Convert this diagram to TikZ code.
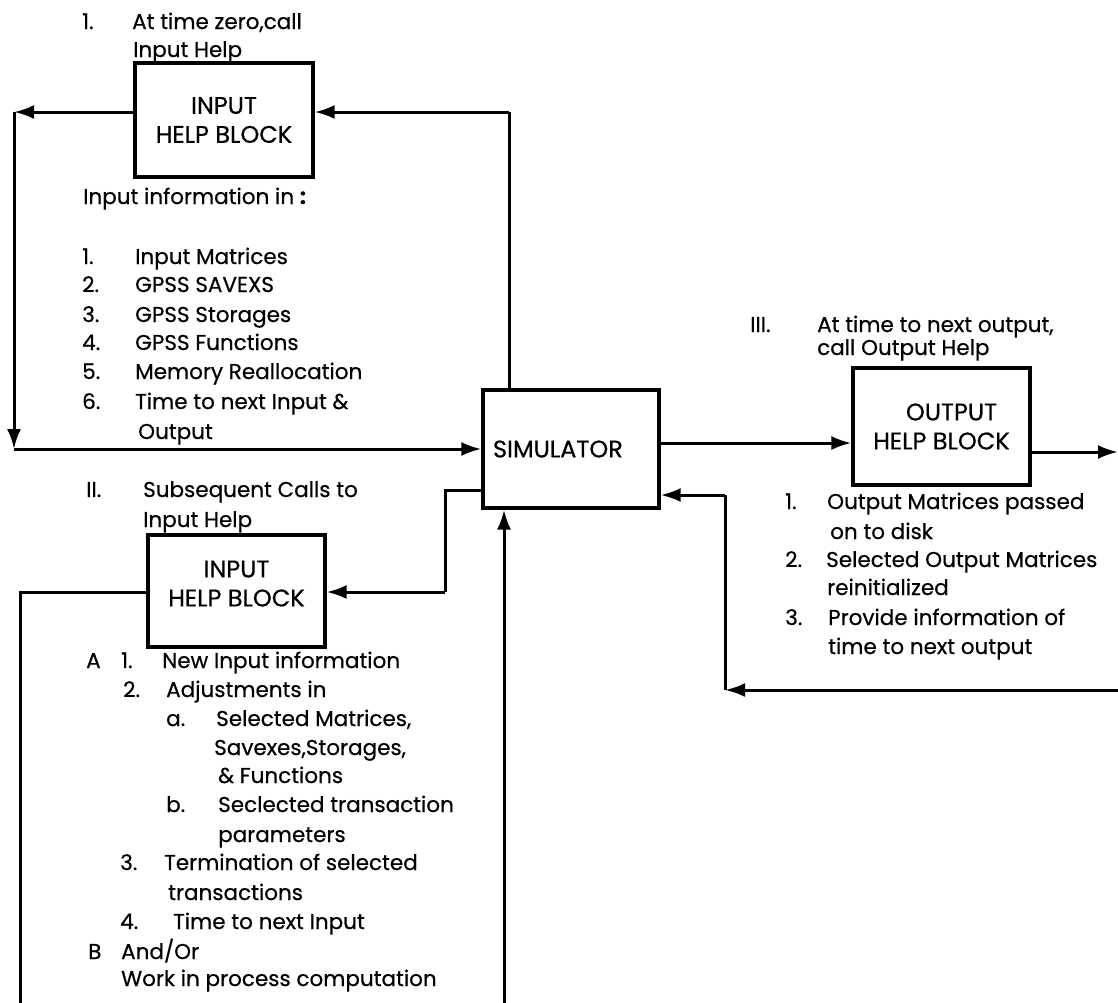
\documentclass[tikz,border=0pt]{standalone}
\usepackage{fontspec}
\setmainfont{Poppins}[FakeBold=0.5]
\usetikzlibrary{arrows.meta}
\newcommand\itemlab[2]{\makebox[#1][l]{#2}}
\begin{document}
\begin{tikzpicture}[x=1pt,y=-1pt,
  font=\fontsize{21.5}{29}\selectfont,
  block/.style={draw, line width=3.2pt, minimum width=#1, align=center, inner sep=0pt,
    font=\fontsize{24}{29}\selectfont},
  wire/.style={line width=3pt},
  tip/.style={line width=3pt, -{Latex[length=20pt,width=14pt]}},
  lbl/.style={anchor=base west, inner sep=0pt}]
\useasboundingbox (0,0) rectangle (1118,1002);
\clip (0,0) rectangle (1118,1002);

% blocks
\node[block=178pt, minimum height=114pt] (inA) at (224,120) {INPUT\\HELP BLOCK};
\node[block=176pt, minimum height=118pt, text width=156pt, align=left] (sim) at (571,449) {SIMULATOR};
\node[block=177pt, minimum height=112pt] (inB) at (236.5,591) {INPUT\\HELP BLOCK\\[-14pt]\mbox{}};
\node[block=177pt, minimum height=117pt] (outB) at (941.5,426.5) {\hspace*{20pt}OUTPUT\\HELP BLOCK};

% turning points of the connectors
\coordinate (tl) at (14,112);
\coordinate (bl) at (14,449);
\coordinate (tr) at (509,112);
\coordinate (ox) at (1118,452);
\coordinate (rin) at (1122,690);
\coordinate (rc) at (725,690);
\coordinate (ru) at (725,495);
\coordinate (jb) at (445,490);
\coordinate (jc) at (445,592);
\coordinate (lb) at (20,592);
\coordinate (lbb) at (20,1012);
\coordinate (sb) at (504,1012);

% first call of the input help block
\draw[tip] (inA.west |- tl) -- (tl);
\draw[tip] (tl) -- (bl);
\draw[tip] (bl) -- (sim.west |- bl);
\draw[wire] (sim.north -| tr) -- (tr);
\draw[tip] (tr) -- (inA.east |- tr);

% output help
\draw[tip] (sim.east |- 0,443) -- (outB.west |- 0,443);
\draw[tip] (outB.east |- ox) -- (ox);
\draw[tip] (rin) -- (rc);
\draw[wire] (rc) -- (ru);
\draw[tip] (ru) -- (sim.east |- ru);

% subsequent calls
\draw[wire] (sim.west |- jb) -- (jb) -- (jc);
\draw[tip] (jc) -- (inB.east |- jc);
\draw[wire] (inB.west |- lb) -- (lb) -- (lbb) -- (sb);
\draw[tip] (sb) -- (sim.south -| sb);

% text of the first input call
\node[lbl] (h1) at (82,29) {\itemlab{50pt}{1.}At time zero,call};
\node[lbl] (h2) at (133,57) {Input Help};
\node[lbl] (t0) at (83,204) {Input information in \textbf{:}};
\node[lbl] (t1) at (82,264) {\itemlab{53pt}{1.}Input Matrices};
\node[lbl] (t2) at (82,292) {\itemlab{53pt}{2.}GPSS SAVEXS};
\node[lbl] (t3) at (82,322) {\itemlab{53pt}{3.}GPSS Storages};
\node[lbl] (t4) at (82,350) {\itemlab{53pt}{4.}GPSS Functions};
\node[lbl] (t5) at (82,379) {\itemlab{53pt}{5.}Memory Reallocation};
\node[lbl] (t6) at (82,409) {\itemlab{53pt}{6.}Time to next Input \&};
\node[lbl] (t7) at (138,439) {Output};

% text of the subsequent calls
\node[lbl] (s1) at (86,497) {\itemlab{57pt}{II.}Subsequent Calls to};
\node[lbl] (s2) at (143,527) {Input Help};
\node[lbl] (u1) at (86,668) {\itemlab{35pt}{A}\itemlab{41pt}{1.}New Input information};
\node[lbl] (u2) at (123,697) {\itemlab{43pt}{2.}Adjustments in};
\node[lbl] (u3) at (166,726) {\itemlab{50pt}{a.}Selected Matrices,};
\node[lbl] (u4) at (214,755) {Savexes,Storages,};
\node[lbl] (u5) at (218,783) {\& Functions};
\node[lbl] (u6) at (166,812) {\itemlab{52pt}{b.}Seclected transaction};
\node[lbl] (u7) at (218,842) {parameters};
\node[lbl] (u8) at (120,870) {\itemlab{44pt}{3.}Termination of selected};
\node[lbl] (u9) at (168,900) {transactions};
\node[lbl] (u10) at (120,929) {\itemlab{53pt}{4.}Time to next Input};
\node[lbl] (u11) at (88,959) {\itemlab{33pt}{B}And/Or};
\node[lbl] (u12) at (121,986) {Work in process computation};

% text of the output help
\node[lbl] (o1) at (750,332) {\itemlab{67pt}{III.}At time to next output,};
\node[lbl] (o2) at (817,355) {call Output Help};
\node[lbl] (p1) at (785,509) {\itemlab{42pt}{1.}Output Matrices passed};
\node[lbl] (p2) at (830,539) {on to disk};
\node[lbl] (p3) at (785,567) {\itemlab{41pt}{2.}Selected Output Matrices};
\node[lbl] (p4) at (827,595) {reinitialized};
\node[lbl] (p5) at (785,625) {\itemlab{43pt}{3.}Provide information of};
\node[lbl] (p6) at (828,654) {time to next output};
\end{tikzpicture}
\end{document}
